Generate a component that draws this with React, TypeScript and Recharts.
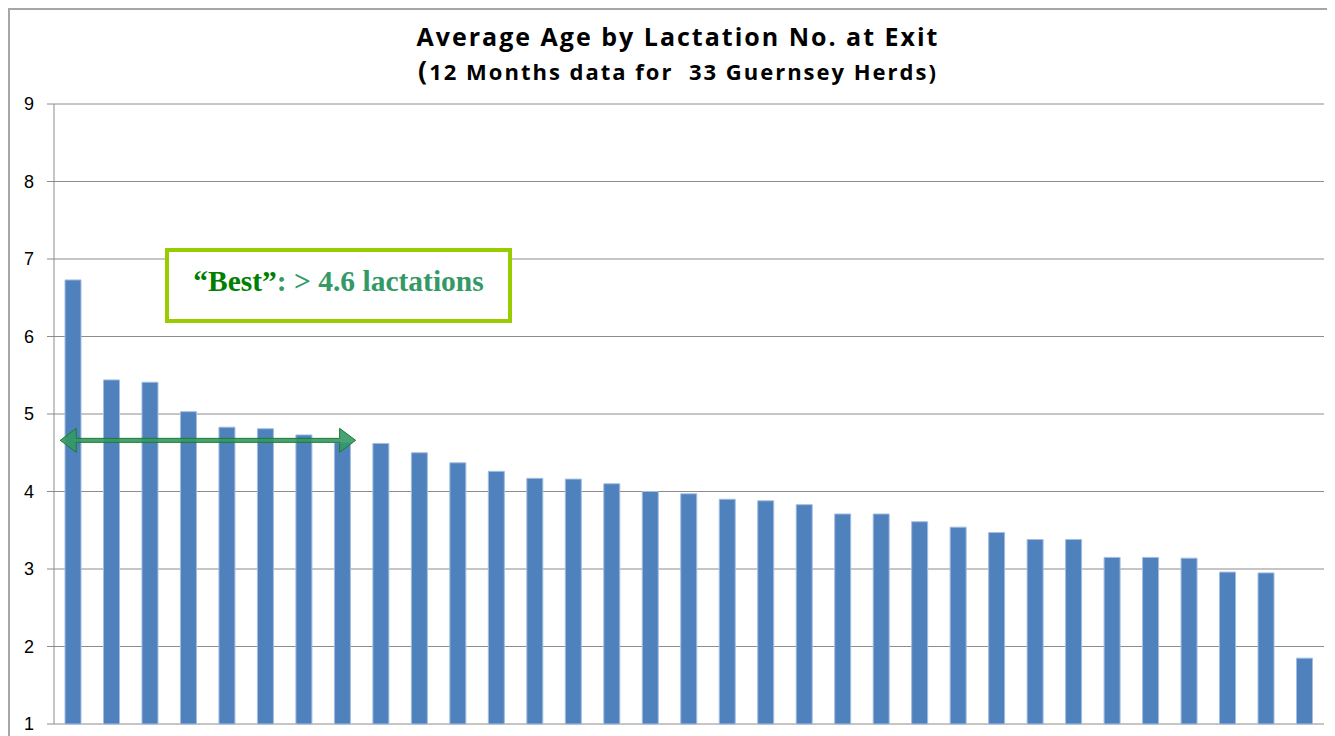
import React from 'react';
import { BarChart, Bar, XAxis, YAxis, CartesianGrid, ReferenceLine } from 'recharts';

// herd rank 1..33, sorted by average lactation number at exit
const herds = [
  '1', '2', '3', '4', '5', '6', '7', '8', '9', '10', '11',
  '12', '13', '14', '15', '16', '17', '18', '19', '20', '21', '22',
  '23', '24', '25', '26', '27', '28', '29', '30', '31', '32', '33',
];
const avgLactation = [
  6.73, 5.44, 5.41, 5.03, 4.83, 4.81, 4.73, 4.63, 4.62, 4.50, 4.37,
  4.26, 4.17, 4.16, 4.10, 4.00, 3.97, 3.90, 3.88, 3.83, 3.71, 3.71,
  3.61, 3.54, 3.47, 3.38, 3.38, 3.15, 3.15, 3.14, 2.96, 2.95, 1.85,
];
const yTicks = [1, 2, 3, 4, 5, 6, 7, 8, 9];

// "best" herds: the arrow spans these
const bestFrom = '1';
const bestTo = '8';
const bestLevel = 4.66;

const data = herds.map((h, i) => ({ herd: h, value: avgLactation[i] }));

// double headed arrow drawn over the reference segment
const ArrowShape = (props: any) => {
  const { x1, y1, x2 } = props;
  const ext = 13;
  const a = x1 - ext;
  const b = x2 + ext;
  const y = y1;
  const s = 2; // half shaft
  const h = 12; // half head
  const l = 16; // head length
  const d = [
    `M${a},${y}`,
    `L${a + l},${y - h}`,
    `L${a + l},${y - s}`,
    `L${b - l},${y - s}`,
    `L${b - l},${y - h}`,
    `L${b},${y}`,
    `L${b - l},${y + h}`,
    `L${b - l},${y + s}`,
    `L${a + l},${y + s}`,
    `L${a + l},${y + h}`,
    'Z',
  ].join(' ');
  return <path d={d} fill="#339966" fillOpacity={0.9} stroke="#1F7A2E" strokeWidth={1} />;
};

export default function App() {
  return (
    <div
      style={{
        position: 'relative',
        width: 1325,
        height: 726,
        borderLeft: '2px solid #A6A6A6',
        borderTop: '2px solid #A6A6A6',
        fontFamily: '"Open Sans", sans-serif',
        background: '#fff',
      }}
    >
      <div
        style={{
          position: 'absolute',
          left: 268,
          width: 800,
          top: 9,
          textAlign: 'center',
          fontWeight: 700,
          fontSize: 25,
          letterSpacing: 2,
          lineHeight: '34px',
          color: '#000',
        }}
      >
        Average Age by Lactation No. at Exit
      </div>
      <div
        style={{
          position: 'absolute',
          left: 268,
          width: 800,
          top: 43,
          textAlign: 'center',
          fontWeight: 700,
          fontSize: 22,
          letterSpacing: 2,
          lineHeight: '34px',
          color: '#000',
        }}
      >
        <span style={{ fontSize: 27 }}>(</span>12 Months data for&nbsp; 33 Guernsey Herds)
      </div>

      <div style={{ position: 'absolute', left: -2, top: -2 }}>
        <BarChart
          width={1327}
          height={728}
          data={data}
          margin={{ top: 96, right: 11, bottom: 12, left: 0 }}
          barSize={16}
        >
          <CartesianGrid vertical={false} stroke="#8C8C8C" strokeWidth={1} />
          <XAxis dataKey="herd" hide />
          <YAxis
            domain={[1, 9]}
            ticks={yTicks}
            interval={0}
            width={46}
            tickSize={7}
            tickMargin={13}
            axisLine={{ stroke: '#8C8C8C' }}
            tickLine={{ stroke: '#8C8C8C' }}
            tick={{ fill: '#000', fontSize: 18, fontFamily: 'Liberation Sans, Arial, sans-serif' }}
          />
          <Bar
            dataKey="value"
            fill="#4F81BD"
            stroke="#A3BDE0"
            strokeWidth={1}
            isAnimationActive={false}
          />
          <ReferenceLine
            segment={[
              { x: bestFrom, y: bestLevel },
              { x: bestTo, y: bestLevel },
            ]}
            shape={ArrowShape}
          />
        </BarChart>
      </div>

      <div
        style={{
          position: 'absolute',
          left: 155,
          top: 238,
          width: 339,
          height: 59,
          border: '4px solid #99CC00',
          background: '#fff',
          display: 'flex',
          alignItems: 'center',
          justifyContent: 'center',
          paddingBottom: 8,
          boxSizing: 'content-box',
          fontFamily: 'Liberation Serif, Times New Roman, serif',
          fontWeight: 700,
          fontSize: 29.5,
          color: '#339966',
        }}
      >
        <span style={{ color: '#008000' }}>“Best”</span>: &gt; 4.6 lactations
      </div>
    </div>
  );
}
